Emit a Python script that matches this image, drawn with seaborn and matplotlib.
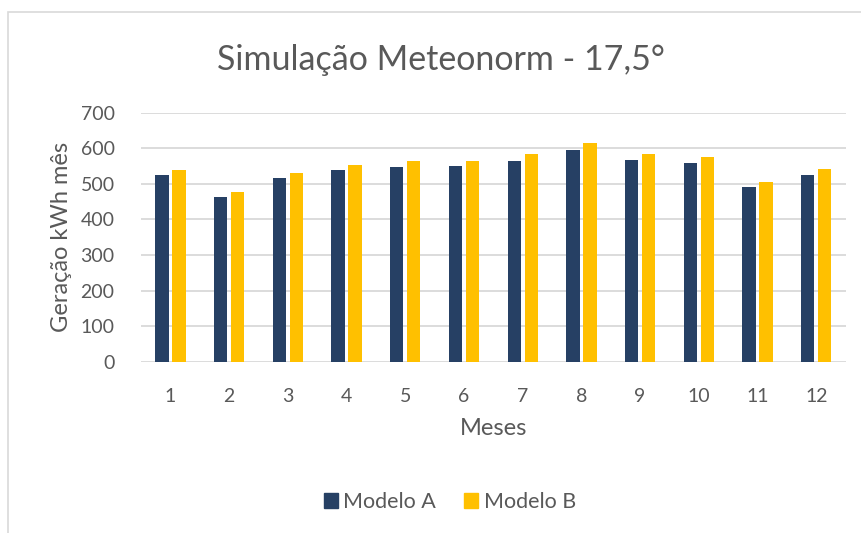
import matplotlib
matplotlib.use("Agg")
import matplotlib.pyplot as plt
import pandas as pd
import seaborn as sns

# monthly generation (kWh)
meses = ["1", "2", "3", "4", "5", "6", "7", "8", "9", "10", "11", "12"]
modelo_a = [526, 464, 517, 540, 547, 549, 565, 595, 566, 559, 491, 526]
modelo_b = [539, 478, 530, 553, 563, 565, 583, 614, 583, 575, 505, 541]

series = {"Modelo A": modelo_a, "Modelo B": modelo_b}
cores = {"Modelo A": "#264064", "Modelo B": "#FFC000"}
TXT = "#595959"

df = pd.DataFrame(
    [(m, nome, v) for nome, vals in series.items() for m, v in zip(meses, vals)],
    columns=["mes", "modelo", "valor"],
)

sns.set_theme(style="white")
plt.rcParams["font.family"] = ["Lato", "DejaVu Sans"]

fig = plt.figure(figsize=(8.62, 5.33), dpi=100)
ax = fig.add_axes([0.1636, 0.3214, 0.8174, 0.4672])

sns.barplot(data=df, x="mes", y="valor", hue="modelo", order=meses,
            palette=cores, width=0.58, gap=0.22, ax=ax, legend=False,
            edgecolor="none", saturation=1)

ax.set_ylim(0, 700)
ax.set_xlim(-0.5, 11.5)
ax.set_yticks(range(0, 701, 100))
ax.grid(axis="y", color="#D9D9D9", linewidth=1.3)
ax.set_axisbelow(True)
for s in ax.spines.values():
    s.set_visible(False)
ax.tick_params(axis="x", length=0, labelsize=14, colors=TXT, pad=19)
ax.tick_params(axis="y", length=0, labelsize=14, colors=TXT, pad=19)

ax.set_xlabel("Meses", fontsize=17, color=TXT, labelpad=9)
ax.set_ylabel("Geração kWh mês", fontsize=17, color=TXT, labelpad=6)
fig.text(0.512, 0.888, "Simulação Meteonorm - 17,5°", ha="center", va="center",
         fontsize=24.5, color=TXT)

handles = [plt.Rectangle((0, 0), 1, 1, color=cores[n]) for n in series]
fig.legend(handles, list(series), loc="center", bbox_to_anchor=(0.522, 0.058),
           ncol=2, frameon=False, fontsize=15.5, handlelength=0.65,
           handleheight=0.65, handletextpad=0.25, columnspacing=1.3,
           labelcolor=TXT)

# thin outer frame like the Excel chart area
fig.add_artist(plt.Rectangle((8 / 862, -0.1), 2, 1 - 12 / 533 + 0.1,
                             transform=fig.transFigure, fill=False,
                             edgecolor="#D9D9D9", linewidth=1.2))

fig.savefig("out.png", dpi=100)
